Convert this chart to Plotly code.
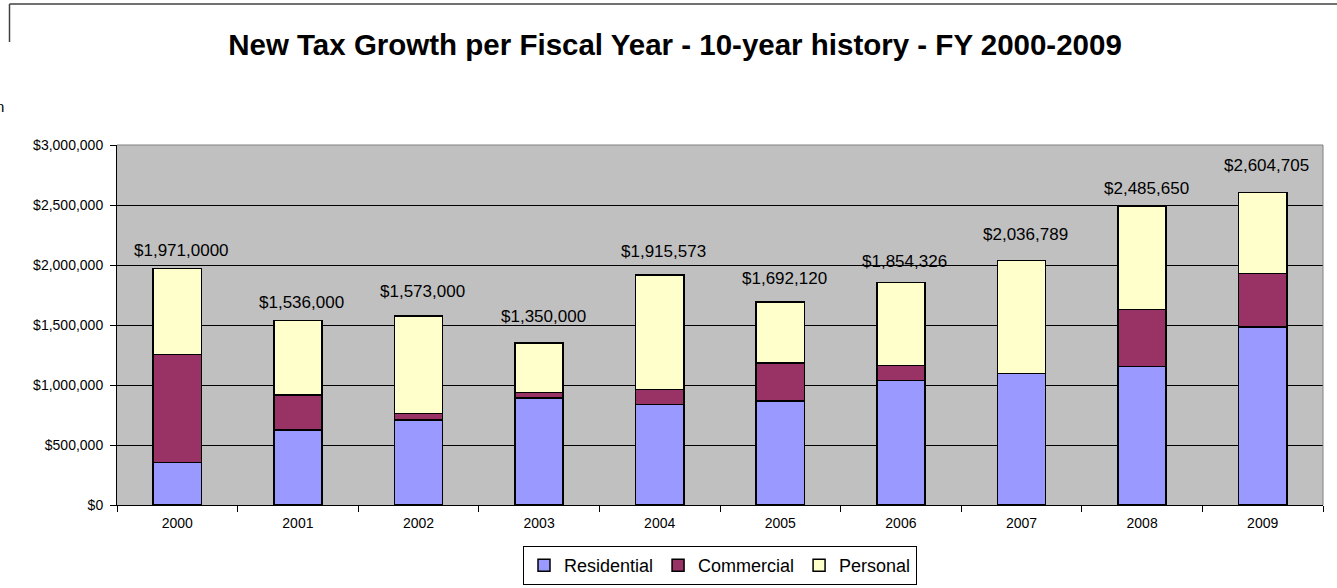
import plotly.graph_objects as go

years = ["2000", "2001", "2002", "2003", "2004", "2005", "2006", "2007", "2008", "2009"]
residential = [355000, 623000, 708000, 892000, 836000, 867000, 1036000, 1094000, 1156000, 1483000]
commercial = [899000, 293000, 53000, 44000, 125000, 316000, 128000, 0, 472000, 445000]
personal = [717000, 620000, 812000, 414000, 954573, 509120, 690326, 942789, 857650, 676705]
totals = [1971000, 1536000, 1573000, 1350000, 1915573, 1692120, 1854326, 2036789, 2485650, 2604705]
total_labels = ["$1,971,0000", "$1,536,000", "$1,573,000", "$1,350,000", "$1,915,573",
                "$1,692,120", "$1,854,326", "$2,036,789", "$2,485,650", "$2,604,705"]
# vertical offset (px) of each total label above its bar
label_offsets = [18, 18, 25, 27, 24, 23, 21, 26, 18, 27]

FONT = "Liberation Sans, Arial, sans-serif"

fig = go.Figure()
for name, vals, col in [("Residential", residential, "#9999FF"),
                        ("Commercial", commercial, "#993366"),
                        ("Personal", personal, "#FFFFCC")]:
    fig.add_trace(go.Bar(
        x=years, y=vals, name=name,
        marker=dict(color=col, line=dict(color="black", width=1.5)),
        hoverinfo="x+y+name",
    ))

annotations = []
for i, (tot, lab, off) in enumerate(zip(totals, total_labels, label_offsets)):
    annotations.append(dict(
        x=i, y=tot, xref="x", yref="y", text=lab, showarrow=False,
        yanchor="middle", xanchor="center", yshift=off, xshift=4,
        font=dict(family=FONT, size=17, color="black"),
    ))
annotations.append(dict(
    x=(6 - 117) / 1206, y=(505 - 107) / 360, xref="paper", yref="paper", text="n",
    showarrow=False, xanchor="right", yanchor="middle",
    font=dict(family=FONT, size=15, color="black"),
))

shapes = [
    # top and right border of the plot area
    dict(type="line", xref="paper", yref="paper", x0=0, x1=1, y0=1, y1=1,
         line=dict(color="#808080", width=1), layer="above"),
    dict(type="line", xref="paper", yref="paper", x0=1, x1=1, y0=0, y1=1,
         line=dict(color="#808080", width=1), layer="above"),
    # outer frame fragments
    dict(type="line", xref="paper", yref="paper", x0=(9.5 - 117) / 1206, x1=(1340 - 117) / 1206,
         y0=(505 - 4) / 360, y1=(505 - 4) / 360, line=dict(color="#404040", width=1.5)),
    dict(type="line", xref="paper", yref="paper", x0=(9.5 - 117) / 1206, x1=(9.5 - 117) / 1206,
         y0=(505 - 4) / 360, y1=(505 - 42) / 360, line=dict(color="#404040", width=1.5)),
]

fig.update_layout(
    width=1337, height=588,
    margin=dict(l=117, r=14, t=145, b=83, autoexpand=False),
    barmode="stack", bargap=0.6,
    paper_bgcolor="white", plot_bgcolor="#C0C0C0",
    font=dict(family=FONT, size=14, color="black"),
    title=dict(text="<b>New Tax Growth per Fiscal Year - 10-year history - FY 2000-2009</b>",
               x=675 / 1337, xanchor="center", y=1 - 45 / 588, yanchor="middle",
               font=dict(family=FONT, size=29.5, color="black")),
    xaxis=dict(type="category", tickson="boundaries", ticks="outside", ticklen=6,
               tickcolor="black", showline=True, linecolor="black", linewidth=1,
               showgrid=False, tickfont=dict(size=14), tickangle=0, ticklabelstandoff=5),
    yaxis=dict(range=[0, 3000000], dtick=500000, tickformat="$,.0f", ticks="outside",
               ticklen=6, tickcolor="black", showline=True, linecolor="black", linewidth=1,
               showgrid=True, gridcolor="black", gridwidth=1, zeroline=False,
               tickfont=dict(size=14), ticklabelstandoff=4),
    legend=dict(orientation="h", x=0.5, xanchor="center", y=(505 - 546) / 360, yanchor="top",
                bordercolor="black", borderwidth=1, bgcolor="white",
                font=dict(family=FONT, size=18), itemwidth=30, traceorder="normal"),
    annotations=annotations,
    shapes=shapes,
)

fig.write_html("out.html", config={"displayModeBar": False},
               post_script="document.body.style.margin='0';document.body.style.overflow='hidden';")
